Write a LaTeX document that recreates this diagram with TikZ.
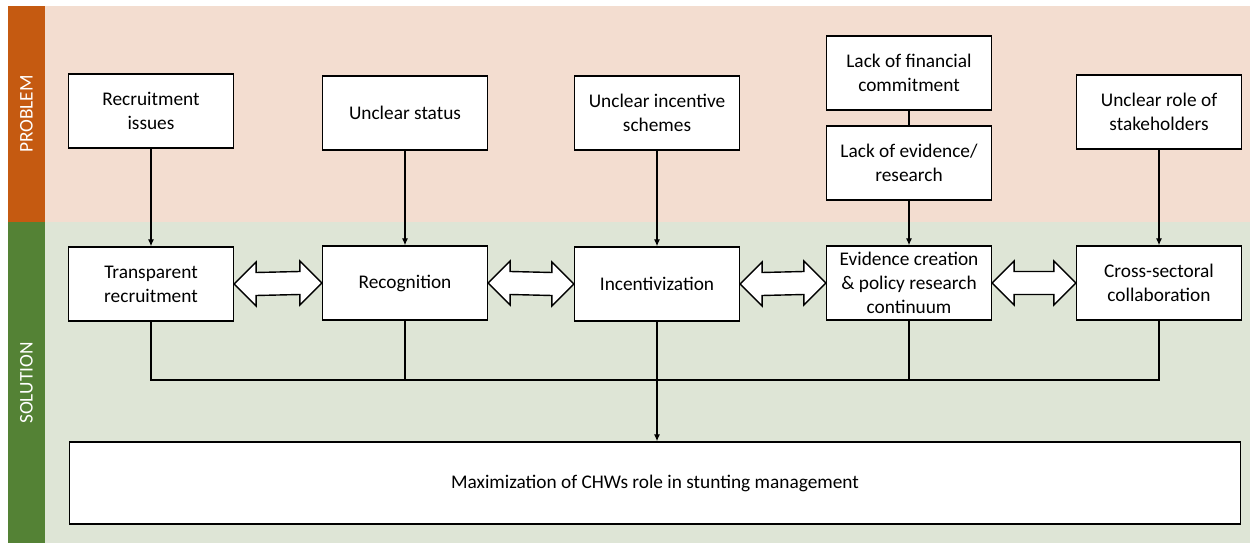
\documentclass[tikz,border=0pt]{standalone}
\usepackage{fontspec}
\setmainfont{Carlito}
\usetikzlibrary{calc,positioning,arrows.meta}
\definecolor{probband}{HTML}{C55A11}
\definecolor{solband}{HTML}{548235}
\definecolor{probbg}{HTML}{F3DDD0}
\definecolor{solbg}{HTML}{DEE5D6}
\tikzset{
  box/.style={draw=black, fill=white, line width=0.8pt, minimum width=3.3cm, minimum height=1.48cm, align=center, font=\fontsize{11}{13.6}\selectfont},
  link/.style={line width=0.7pt, -{Latex[length=4pt,width=3.5pt]}},
  bus/.style={line width=0.7pt},
  twowayline/.style={draw=black, fill=white, line width=0.8pt, line join=miter},
  bandlabel/.style={text=white, rotate=90, font=\fontsize{11}{13}\selectfont}
}
% block double arrow from the east side of #1 to the west side of #2
\def\twoway(#1)(#2){\draw[twowayline] (#1.east) -- ++(22,-22) -- ++(0,10.5) -- ($(#2.west)+(-22,-11.5)$) -- ++(0,-10.5) -- (#2.west) -- ++(-22,22) -- ++(0,-10.5) -- ($(#1.east)+(22,11.5)$) -- ++(0,10.5) -- cycle;}

\begin{document}
\begin{tikzpicture}[x=0.02cm, y=-0.02cm]
			%%%%% BACKGROUND %%%%%
			\useasboundingbox (0,0) rectangle (1250,543);
			\fill[probbg] (45,6) rectangle (1250,222);
			\fill[solbg] (45,222) rectangle (1250,543);
			\fill[probband] (8,6) rectangle (45,222);
			\fill[solband] (8,222) rectangle (45,543);
			\node[bandlabel] (problem) at (26.5,114) {PROBLEM};
			\node[bandlabel] (solution) at (26.5,383) {SOLUTION};
			
			%%%%% PROBLEM %%%%%
			\node[box] (recissues) at (151,111) {Recruitment\\issues};
			\node[box] (status) at (405,113) {Unclear status};
			\node[box] (schemes) at (657,113) {Unclear incentive\\schemes};
			\node[box] (finance) at (909,73) {Lack of financial\\commitment};
			\node[box] (evidence) at (909,163) {Lack of evidence/\\research};
			\node[box] (roles) at (1159,112) {Unclear role of\\stakeholders};
			
			%%%%% SOLUTION %%%%%
			\node[box] (transparent) at (151,284) {Transparent\\recruitment};
			\node[box] (recognition) at (405,283) {Recognition};
			\node[box] (incentive) at (657,284) {Incentivization};
			\node[box] (creation) at (909,283) {Evidence creation\\\& policy research\\continuum};
			\node[box] (crosssect) at (1159,283) {Cross-sectoral\\collaboration};
			
			\node[box, minimum width=23.42cm, minimum height=1.64cm] (maxrole) at (655,483) {Maximization of CHWs role in stunting management};
			
			%%%%% LINKS %%%%%
			\draw[link] (recissues.south) -- (transparent.north);
			\draw[link] (status.south) -- (recognition.north);
			\draw[link] (schemes.south) -- (incentive.north);
			\draw[bus] (finance.south) -- (evidence.north);
			\draw[link] (evidence.south) -- (creation.north);
			\draw[link] (roles.south) -- (crosssect.north);
			
			\twoway(transparent)(recognition)
			\twoway(recognition)(incentive)
			\twoway(incentive)(creation)
			\twoway(creation)(crosssect)
			
			\coordinate (bus) at (0,380);
			\draw[bus] (transparent.south) -- (transparent.south |- bus) -- (crosssect.south |- bus) -- (crosssect.south);
			\draw[bus] (recognition.south) -- (recognition.south |- bus);
			\draw[bus] (creation.south) -- (creation.south |- bus);
			\draw[link] (incentive.south) -- (incentive.south |- maxrole.north);
			%%%%% END %%%%%
\end{tikzpicture}
\end{document}
